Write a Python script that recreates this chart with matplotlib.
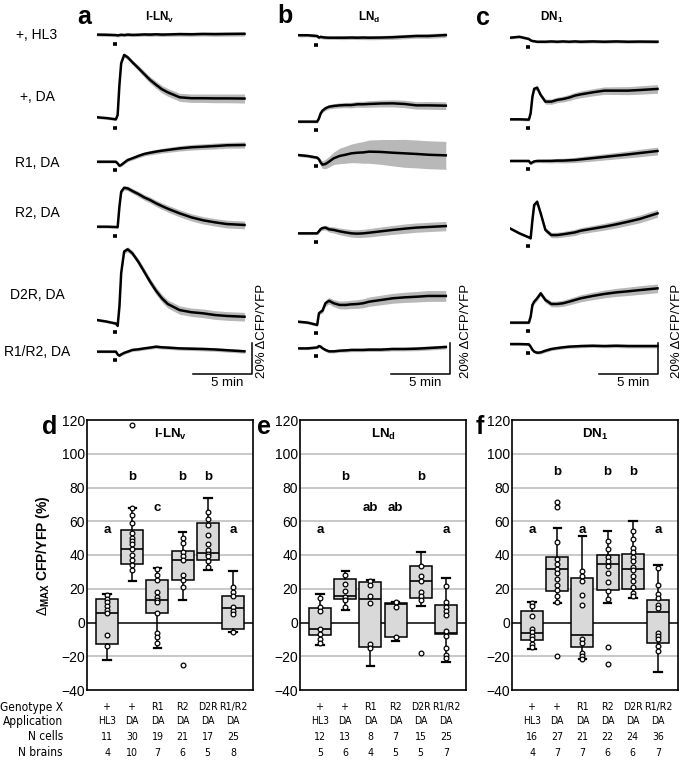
import numpy as np
import matplotlib
matplotlib.use('Agg')
import matplotlib.pyplot as plt
from matplotlib import font_manager, transforms

plt.rcParams['font.family'] = ['Liberation Sans', 'DejaVu Sans']
plt.rcParams['mathtext.fontset'] = 'custom'
plt.rcParams['mathtext.rm'] = 'Liberation Sans'
plt.rcParams['mathtext.bf'] = 'Liberation Sans:bold'
plt.rcParams['mathtext.it'] = 'Liberation Sans:italic'


def find_narrow():
    # a condensed sans for the little table under the box plots
    cands = []
    for f in font_manager.fontManager.ttflist:
        fn = f.fname.lower()
        if any(s in fn for s in ('bold', 'italic', 'oblique', 'serif', 'mono')):
            continue
        if 'narrow' in fn or 'condensed' in fn or 'narrow' in f.name.lower():
            rank = 0 if 'liberation' in fn else 1
            cands.append((rank, f.fname))
    if cands:
        cands.sort()
        return font_manager.FontProperties(fname=cands[0][1])
    return font_manager.FontProperties(family='Liberation Sans')


NARROW_FP = find_narrow()

# ---------------- traces (% dCFP/YFP) ----------------
t_min = [0, 0.8, 1.6, 1.75, 1.9, 2.05, 2.3, 2.6, 3.0, 3.5, 4.0, 4.5, 5.0, 5.5,
         6.0, 7.0, 8.0, 9.0, 10.0, 11.0, 12.5]
stim_min = [1.35, 1.68]
row_names = ['+, HL3', '+, DA', 'R1, DA', 'R2, DA', 'D2R, DA', 'R1/R2, DA']

# l-LNv
lnv_hl3 = [0.9, 0.8, 0.6, 0.4, 0.6, 0.8, 0.6, 0.9, 0.7, 0.8, 1.0, 0.9, 1.1, 0.9, 1.0, 1.2, 1.1, 1.3, 1.2, 1.3, 1.4]
lnv_da = [1.1, 0.6, -0.2, 2.6, 22.0, 36.0, 41.3, 39.8, 36.6, 32.9, 29.0, 25.2, 22.1, 19.2, 17.2, 14.0, 13.4, 13.4, 13.3, 13.3, 13.2]
lnv_r1 = [-1.1, -1.1, -1.1, -2.2, -3.7, -3.2, -1.7, 0.0, 1.1, 2.6, 3.9, 4.7, 5.4, 6.0, 6.5, 7.5, 8.2, 8.6, 9.0, 9.5, 9.7]
lnv_r2 = [1.5, 1.5, 1.3, 1.2, 14.4, 24.0, 26.6, 26.2, 24.5, 22.6, 20.4, 18.7, 16.6, 14.8, 13.1, 10.1, 7.5, 5.6, 4.3, 3.2, 2.6]
lnv_d2r = [1.3, 0.3, -1.0, -2.5, 9.9, 31.6, 45.5, 46.9, 44.3, 38.9, 32.5, 26.0, 20.2, 15.3, 11.6, 7.7, 6.3, 5.6, 4.5, 3.9, 3.4]
lnv_r1r2 = [-1.7, -1.7, -1.7, -3.5, -4.3, -3.5, -2.5, -1.7, -0.6, -0.2, 0.4, 0.9, 1.5, 1.1, 0.9, 0.4, 0.2, 0.0, -0.3, -0.8, -1.5]

lnv_hl3_sem = [1.0, 1.0, 1.0, 1.0, 1.0, 1.0, 1.0, 1.1, 1.1, 1.1, 1.1, 1.2, 1.2, 1.2, 1.2, 1.3, 1.3, 1.3, 1.4, 1.4, 1.4]
lnv_da_sem = [0.8, 0.8, 0.8, 1.0, 1.2, 1.2, 1.3, 1.4, 1.5, 1.7, 1.9, 2.1, 2.3, 2.4, 2.5, 2.6, 2.7, 2.7, 2.8, 2.8, 2.9]
lnv_r1_sem = [0.8, 0.8, 0.8, 0.9, 0.9, 1.0, 1.0, 1.0, 1.1, 1.2, 1.3, 1.4, 1.5, 1.5, 1.6, 1.7, 1.8, 1.8, 1.9, 1.9, 2.0]
lnv_r2_sem = [0.8, 0.8, 0.8, 1.0, 1.2, 1.3, 1.4, 1.5, 1.6, 1.7, 1.8, 1.9, 2.0, 2.1, 2.2, 2.3, 2.3, 2.4, 2.4, 2.5, 2.5]
lnv_d2r_sem = [0.8, 0.8, 0.8, 1.0, 1.2, 1.4, 1.5, 1.6, 1.7, 1.9, 2.1, 2.2, 2.4, 2.5, 2.6, 2.7, 2.7, 2.8, 2.8, 2.8, 2.8]
lnv_r1r2_sem = [0.7, 0.7, 0.7, 0.8, 0.8, 0.8, 0.9, 0.9, 0.9, 1.0, 1.0, 1.0, 1.1, 1.1, 1.1, 1.1, 1.2, 1.2, 1.2, 1.2, 1.2]

# LNd
lnd_hl3 = [0.5, 0.5, 0.0, -1.0, -0.5, -0.8, -1.0, -1.1, -1.1, -1.1, -1.1, -1.0, -1.1, -1.0, -1.1, -1.0, -0.8, -0.4, 0.0, 0.0, 0.6]
lnd_da = [-1.7, -1.7, -1.7, 0.4, 3.7, 5.4, 6.9, 7.9, 8.4, 8.8, 9.0, 9.0, 9.5, 9.5, 9.7, 10.0, 10.1, 9.7, 8.8, 8.8, 8.6]
lnd_r1 = [3.2, 2.6, 1.5, 0.4, -1.7, -3.0, -2.6, -1.1, 1.1, 2.6, 3.4, 4.3, 4.7, 4.9, 5.4, 5.2, 4.7, 4.3, 3.9, 3.4, 3.0]
lnd_r2 = [-2.8, -2.8, -2.8, -1.5, 0.0, 0.6, 0.9, -0.2, -0.6, -1.5, -2.2, -2.8, -3.0, -2.8, -2.4, -1.5, -0.6, 0.2, 0.9, 1.3, 1.9]
lnd_d2r = [0.2, -0.4, -1.9, 5.6, 6.6, 7.3, 12.1, 13.7, 12.1, 11.0, 11.0, 11.4, 11.6, 12.1, 13.1, 14.2, 15.3, 15.9, 16.3, 16.8, 16.8]
lnd_r1r2 = [0.4, 0.4, 1.0, 1.9, 1.5, 0.5, -0.6, -1.5, -1.5, -1.1, -0.9, -0.6, -0.6, -0.6, -0.4, -0.4, 0.0, 0.0, 0.2, 0.6, 1.3]

lnd_hl3_sem = [1.0, 1.0, 1.0, 1.0, 1.0, 1.1, 1.1, 1.1, 1.1, 1.2, 1.2, 1.2, 1.2, 1.3, 1.3, 1.3, 1.4, 1.4, 1.4, 1.5, 1.5]
lnd_da_sem = [0.8, 0.8, 0.8, 1.0, 1.1, 1.2, 1.3, 1.4, 1.5, 1.6, 1.7, 1.8, 1.9, 2.0, 2.1, 2.2, 2.3, 2.4, 2.4, 2.5, 2.5]
lnd_r1_sem = [1.0, 1.0, 1.0, 1.5, 2.0, 2.5, 3.0, 3.5, 4.0, 5.0, 5.5, 6.0, 6.5, 7.0, 7.5, 8.0, 8.5, 9.0, 9.0, 9.0, 9.0]
lnd_r2_sem = [0.8, 0.8, 0.8, 1.0, 1.2, 1.4, 1.6, 1.8, 2.0, 2.2, 2.3, 2.4, 2.5, 2.6, 2.7, 2.8, 2.9, 3.0, 3.0, 3.0, 3.0]
lnd_d2r_sem = [0.8, 0.8, 0.8, 1.0, 1.3, 1.6, 1.9, 2.1, 2.3, 2.5, 2.6, 2.7, 2.8, 2.9, 3.0, 3.1, 3.2, 3.3, 3.4, 3.5, 3.5]
lnd_r1r2_sem = [0.8, 0.8, 0.8, 0.9, 0.9, 0.9, 1.0, 1.0, 1.0, 1.0, 1.1, 1.1, 1.1, 1.1, 1.2, 1.2, 1.2, 1.2, 1.3, 1.3, 1.3]

# DN1
dn1_hl3 = [-1.1, -0.5, -1.9, -2.8, -3.2, -3.4, -3.7, -3.7, -3.7, -3.5, -3.7, -3.5, -3.7, -3.5, -3.7, -3.5, -3.7, -3.5, -3.7, -3.6, -3.7]
dn1_da = [-0.2, -0.2, -0.4, 3.7, 14.4, 19.5, 20.2, 15.5, 11.2, 11.2, 12.3, 12.9, 13.8, 15.1, 15.9, 17.2, 18.3, 18.3, 18.3, 18.7, 19.4]
dn1_r1 = [-0.6, -0.6, -0.6, -2.2, -1.5, -0.9, -0.6, -0.6, -0.6, -0.6, -0.4, -0.4, -0.2, 0.0, 0.4, 1.2, 2.0, 2.8, 3.6, 4.5, 5.8]
dn1_r2 = [0.4, -2.8, -5.4, -6.0, 5.8, 15.5, 17.6, 10.1, -0.6, -3.9, -3.9, -3.4, -2.8, -2.2, -1.1, 0.2, 1.5, 3.0, 4.7, 6.5, 10.1]
dn1_d2r = [-0.4, -0.4, -0.4, 3.4, 11.0, 13.1, 15.3, 18.5, 14.2, 11.6, 11.6, 12.1, 13.1, 14.2, 15.3, 16.8, 18.1, 19.1, 19.8, 20.6, 21.7]
dn1_r1r2 = [3.2, 3.2, 3.0, 1.5, -0.5, -1.7, -2.4, -2.2, -1.1, 0.0, 0.6, 1.1, 1.5, 1.7, 1.9, 2.1, 1.9, 2.1, 1.9, 1.9, 1.9]

dn1_hl3_sem = [0.8, 0.8, 0.8, 0.8, 0.8, 0.8, 0.8, 0.9, 0.9, 0.9, 0.9, 0.9, 0.9, 1.0, 1.0, 1.0, 1.0, 1.0, 1.0, 1.0, 1.0]
dn1_da_sem = [0.8, 0.8, 0.8, 1.0, 1.2, 1.3, 1.4, 1.5, 1.6, 1.7, 1.8, 1.9, 2.0, 2.1, 2.2, 2.3, 2.4, 2.5, 2.6, 2.7, 2.8]
dn1_r1_sem = [0.8, 0.8, 0.8, 0.9, 0.9, 1.0, 1.0, 1.1, 1.2, 1.3, 1.4, 1.5, 1.6, 1.7, 1.8, 1.9, 2.0, 2.1, 2.2, 2.4, 2.5]
dn1_r2_sem = [0.8, 0.8, 0.8, 1.0, 1.2, 1.3, 1.4, 1.5, 1.6, 1.7, 1.8, 1.8, 1.9, 2.0, 2.0, 2.1, 2.2, 2.3, 2.4, 2.5, 2.5]
dn1_d2r_sem = [0.8, 0.8, 0.8, 1.0, 1.2, 1.4, 1.5, 1.6, 1.7, 1.8, 1.9, 2.0, 2.1, 2.2, 2.3, 2.4, 2.5, 2.6, 2.7, 2.8, 2.8]
dn1_r1r2_sem = [0.8, 0.8, 0.8, 0.8, 0.9, 0.9, 0.9, 0.9, 1.0, 1.0, 1.0, 1.0, 1.0, 1.1, 1.1, 1.1, 1.1, 1.2, 1.2, 1.2, 1.2]

trace_sets = [
    ([lnv_hl3, lnv_da, lnv_r1, lnv_r2, lnv_d2r, lnv_r1r2],
     [lnv_hl3_sem, lnv_da_sem, lnv_r1_sem, lnv_r2_sem, lnv_d2r_sem, lnv_r1r2_sem]),
    ([lnd_hl3, lnd_da, lnd_r1, lnd_r2, lnd_d2r, lnd_r1r2],
     [lnd_hl3_sem, lnd_da_sem, lnd_r1_sem, lnd_r2_sem, lnd_d2r_sem, lnd_r1r2_sem]),
    ([dn1_hl3, dn1_da, dn1_r1, dn1_r2, dn1_d2r, dn1_r1r2],
     [dn1_hl3_sem, dn1_da_sem, dn1_r1_sem, dn1_r2_sem, dn1_d2r_sem, dn1_r1r2_sem]),
]

# ---------------- box plots (Delta MAX CFP/YFP, %) ----------------
genotypes = ['+', '+', 'R1', 'R2', 'D2R', 'R1/R2']
applications = ['HL3', 'DA', 'DA', 'DA', 'DA', 'DA']
table_labels = ['Genotype X', 'Application', 'N cells', 'N brains']

lnv_q1 = [-12.5, 34.5, 5.4, 25.3, 36.9, -4.0]
lnv_med = [5.4, 43.4, 13.5, 37.3, 41.2, 8.6]
lnv_q3 = [14.0, 54.8, 24.9, 42.4, 59.2, 15.9]
lnv_lo = [-22.0, 24.3, -15.0, 13.5, 31.3, -5.6]
lnv_hi = [17.0, 68.0, 32.3, 53.8, 74.0, 30.5]
lnv_pts = [[16.3, 14, 12, 9.6, 7.4, 5.4, -7.6, -14],
           [117, 68, 63.7, 59, 52.8, 50.2, 48.5, 46.8, 43.4, 40.2, 36.9, 33.9, 31.3],
           [31.9, 28.3, 24.9, 18.3, 15.3, 13.5, 12, 5.4, -6, -8.6, -12.4],
           [49.8, 47.2, 41.8, 39.4, 36.9, 27.9, 25.3, 20.9, -25.3],
           [65.7, 61.2, 58, 51.8, 46.4, 42.8, 40.8, 39.2, 36.3, 32.9],
           [20.9, 18.3, 15.9, 9, 7, 5, -5.6]]
lnv_letters = ['a', 'b', 'c', 'b', 'b', 'a']
lnv_letter_y = [55, 86, 68, 86, 86, 55]
lnv_cells = [11, 30, 19, 21, 17, 25]
lnv_brains = [4, 10, 7, 6, 5, 8]

lnd_q1 = [-7.4, 14.0, -14.5, -8.8, 14.7, -7.0]
lnd_med = [-4.0, 16.0, 14.0, 11.0, 24.7, -6.0]
lnd_q3 = [8.4, 25.7, 23.9, 11.6, 33.5, 10.6]
lnd_lo = [-13.3, 7.4, -25.5, -11.0, 10.0, -23.5]
lnd_hi = [17.0, 30.5, 24.9, 12.0, 41.8, 26.5]
lnd_pts = [[14.3, 9, 7, -4, -7, -9.6, -12],
           [28.3, 22.7, 18.9, 15.3, 13.3, 9],
           [24.5, 22.3, 16, 11.4, -12.5, -15],
           [12, 9.4, -8.8],
           [33.5, 27.3, 24.5, 18.3, 16, 13.5, -18],
           [21.5, 12, 9.4, 7, 4.4, -5, -8, -15, -19, -21]]
lnd_letters = ['a', 'b', 'ab', 'ab', 'b', 'a']
lnd_letter_y = [55, 86, 68, 68, 86, 55]
lnd_cells = [12, 13, 8, 7, 15, 25]
lnd_brains = [5, 6, 4, 5, 5, 7]

dn1_q1 = [-10.6, 18.5, -14.5, 19.3, 19.9, -12.0]
dn1_med = [-6.4, 31.9, -7.6, 34.5, 31.9, 6.4]
dn1_q3 = [7.0, 38.8, 26.3, 39.8, 40.4, 13.5]
dn1_lo = [-15.5, 11.4, -21.5, 11.4, 14.5, -29.5]
dn1_hi = [12.4, 55.8, 51.4, 54.4, 60.2, 33.9]
dn1_pts = [[11.6, 9.6, 4, -3.6, -5.6, -8, -10, -12.5, -14.3],
           [71.6, 68.6, 47.8, 37.5, 34.9, 31.9, 29.5, 25.9, 22.3, 19.5, 16, 12, -20],
           [30.3, 27.5, 24.5, 16.5, 10.6, -9.6, -12, -18, -20, -21.5],
           [48.4, 43.8, 38.8, 36.3, 33.3, 29.5, 23.9, 18.9, 14, -14.5, -24.5],
           [54.2, 49.4, 44.4, 41.8, 38.8, 36.5, 32.9, 30.9, 27.5, 24.3, 20.9, 17.5, 15.5],
           [32.3, 22.3, 16.9, 14.5, 10.4, 8.4, -6, -8, -10, -14, -17]]
dn1_letters = ['a', 'b', 'a', 'b', 'b', 'a']
dn1_letter_y = [55, 89, 55, 89, 89, 55]
dn1_cells = [16, 27, 21, 22, 24, 36]
dn1_brains = [4, 7, 7, 6, 6, 7]

box_sets = [
    (lnv_q1, lnv_med, lnv_q3, lnv_lo, lnv_hi, lnv_pts, lnv_letters, lnv_letter_y, lnv_cells, lnv_brains),
    (lnd_q1, lnd_med, lnd_q3, lnd_lo, lnd_hi, lnd_pts, lnd_letters, lnd_letter_y, lnd_cells, lnd_brains),
    (dn1_q1, dn1_med, dn1_q3, dn1_lo, dn1_hi, dn1_pts, dn1_letters, dn1_letter_y, dn1_cells, dn1_brains),
]

cell_titles = ['l-LN$_\\mathbf{v}$', 'LN$_\\mathbf{d}$', 'DN$_\\mathbf{1}$']

# ---------------- layout (pixels of the 682x764 picture) ----------------
W, H = 682, 764
PX_PCT = 1.55     # px per 1 % dCFP/YFP
PX_MIN = 11.8     # px per minute
row_base_px = [36, 119, 160, 229, 322, 349]
row_label_py = [35, 97, 163, 213, 295, 352]
top_left_px = [97, 298.3, 510]
bar_x_min = [13.1, 12.85, 12.55]
bar_lab_dx = [0.85, 1.35, 1.6]
top_letters = ['a', 'b', 'c']
top_letter_px = [(84, 17), (285, 16), (483, 18)]
top_title_px = [160, 369, 552]
bot_left_px = [87, 300, 512]
bot_letters = ['d', 'e', 'f']
bot_letter_px = [50, 264, 480]
table_rows_py = [707, 721, 737, 753]


def fx(px):
    return px / W


def fy(py):
    return 1 - py / H


fig = plt.figure(figsize=(W / 100, H / 100), dpi=100)
fig.patch.set_facecolor('white')
renderer = fig.canvas.get_renderer()


def text_w(s, fp):
    t = fig.text(0, 0, s, fontproperties=fp)
    w = t.get_window_extent(renderer=renderer).width
    t.remove()
    return w


# size the table fonts so they fit like in the picture
base_fp = NARROW_FP.copy()
base_fp.set_size(10)
LABEL_FP = NARROW_FP.copy()
LABEL_FP.set_size(min(10, 10 * 63 / text_w('Genotype X', base_fp)))
VALUE_FP = NARROW_FP.copy()
VALUE_FP.set_size(min(10, 10 * 48 / (text_w('D2R', base_fp) + text_w('R1/R2', base_fp))))

for name, py in zip(row_names, row_label_py):
    fig.text(fx(37), fy(py), name, ha='center', va='center', fontsize=10)

for i, (traces, sems) in enumerate(trace_sets):
    ax = fig.add_axes([fx(top_left_px[i]), fy(390), 14 * PX_MIN / W, 390 / H])
    ax.set_xlim(0, 14)
    ax.set_ylim(-390 / PX_PCT, 0)
    ax.axis('off')
    for r in range(6):
        off = -row_base_px[r] / PX_PCT
        y = off + np.array(traces[r])
        s = np.array(sems[r])
        ax.fill_between(t_min, y - s, y + s, color='#b8b8b8', lw=0, zorder=1)
        ax.plot(t_min, y, color='black', lw=1.8, zorder=2)
        ax.plot(stim_min, [y[2] - 5.5] * 2, color='black', lw=2.6,
                solid_capstyle='butt', zorder=2)
    # scale bars: 5 min and 20 %
    yb = -374 / PX_PCT
    xb = bar_x_min[i]
    ax.plot([xb - 5, xb, xb], [yb, yb, yb + 20], color='black', lw=1.1,
            clip_on=False)
    ax.text(xb - 2.1, yb - 5.8, '5 min', ha='center', va='center', fontsize=9.5)
    ax.text(xb + bar_lab_dx[i], yb - 2.6, '20% ΔCFP/YFP', rotation=90,
            ha='center', va='bottom', fontsize=9.5, clip_on=False)

    fig.text(fx(top_letter_px[i][0]), fy(top_letter_px[i][1]), top_letters[i],
             ha='center', va='center', fontsize=18, fontweight='bold')
    fig.text(fx(top_title_px[i]), fy(17), cell_titles[i], ha='center',
             va='center', fontsize=8.5, fontweight='bold')

for i, (q1, med, q3, lo, hi, pts, letters, letter_y, cells, brains) in enumerate(box_sets):
    ax = fig.add_axes([fx(bot_left_px[i]), fy(690), 166 / W, 270 / H])
    stats = [dict(q1=q1[k], med=med[k], q3=q3[k], whislo=lo[k], whishi=hi[k],
                  fliers=[]) for k in range(6)]
    ax.bxp(stats, positions=range(1, 7), widths=0.88, capwidths=0.3,
           patch_artist=True, showfliers=False, manage_ticks=False,
           boxprops=dict(facecolor='#d9d9d9', edgecolor='black', linewidth=1.1),
           medianprops=dict(color='black', linewidth=1.2),
           whiskerprops=dict(color='black', linewidth=1.1),
           capprops=dict(color='black', linewidth=1.6))
    for k, p in enumerate(pts):
        ax.plot([k + 1] * len(p), p, 'o', mfc='white', mec='black', ms=3.4,
                mew=0.9, zorder=4)
    ax.set_xlim(0.2, 6.8)
    ax.set_ylim(-40, 120)
    ax.set_yticks(range(-40, 121, 20))
    ax.set_xticks([])
    ax.tick_params(axis='y', length=0, labelsize=10, pad=1.5)
    for sp in ax.spines.values():
        sp.set_linewidth(1.2)
    for g in [100, 80, 60, 40, 20, -20]:
        ax.axhline(g, color='#c4c4c4', lw=1.3, zorder=0)
    ax.axhline(0, color='black', lw=1.1, zorder=1)

    for k in range(6):
        ax.text(k + 1, letter_y[k], letters[k], ha='center', va='center',
                fontsize=9.5, fontweight='bold')
    ax.text(0.5, 0.945, cell_titles[i], transform=ax.transAxes, ha='center',
            va='center', fontsize=9.5, fontweight='bold')
    fig.text(fx(bot_letter_px[i]), fy(427), bot_letters[i], ha='center',
             va='center', fontsize=18, fontweight='bold')

    tr = transforms.blended_transform_factory(ax.transData, fig.transFigure)
    for vals, py in zip([genotypes, applications, cells, brains], table_rows_py):
        for k, v in enumerate(vals):
            ax.text(k + 1, fy(py), str(v), transform=tr, ha='center',
                    va='center', fontproperties=VALUE_FP, clip_on=False)

for lab, py in zip(table_labels, table_rows_py):
    fig.text(fx(63), fy(py), lab, ha='right', va='center',
             fontproperties=LABEL_FP)

fig.text(fx(43), fy(556), r'$\Delta_{\mathbf{MAX}}$ CFP/YFP (%)', rotation=90,
         ha='center', va='center', fontsize=10, fontweight='bold')

fig.savefig('out.png', dpi=100)
